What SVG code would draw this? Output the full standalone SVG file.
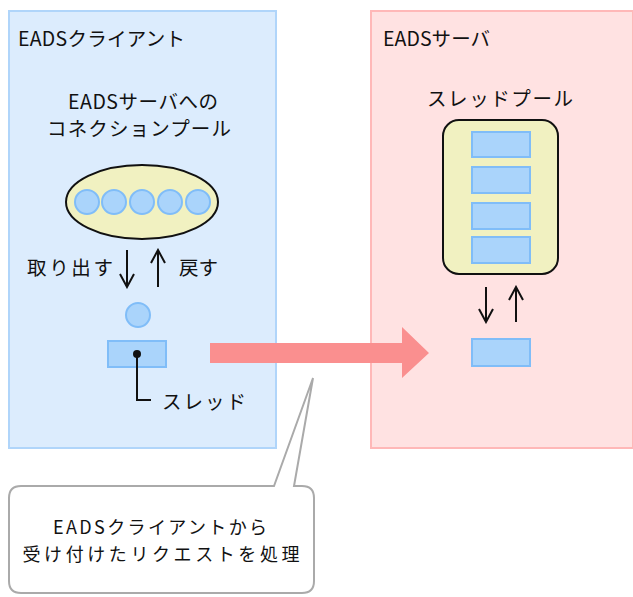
<svg xmlns="http://www.w3.org/2000/svg" width="633" height="597" viewBox="0 0 633 597">
<defs>
<style>
text{font-family:"Noto Sans CJK JP","Noto Sans",sans-serif;font-size:19.5px;fill:#111;}
.sm{font-size:18px;}
.blue{fill:#aad4fb;stroke:#80bdf8;stroke-width:2;}
.ln{stroke:#111;stroke-width:2;fill:none;}
</style>
<marker id="open" viewBox="0 0 16 16" refX="14" refY="8" markerWidth="16" markerHeight="16" markerUnits="userSpaceOnUse" orient="auto">
<polyline points="1,1 14,8 1,15" fill="none" stroke="#111" stroke-width="2"/>
</marker>
</defs>
<g id="client">
<rect x="9" y="11" width="267" height="437" fill="#dcecfd" stroke="#b0d5fa" stroke-width="2"/>
<text x="18" y="46" textLength="167" lengthAdjust="spacing">EADSクライアント</text>
<text x="143" y="109" text-anchor="middle" textLength="150" lengthAdjust="spacing">EADSサーバへの</text>
<text x="139" y="136" text-anchor="middle" textLength="184" lengthAdjust="spacing">コネクションプール</text>
</g>
<g id="connpool">
<ellipse cx="142" cy="202" rx="76" ry="37" fill="#f1f1c1" stroke="#111" stroke-width="2"/>
<circle class="blue" cx="87" cy="202" r="12"/>
<circle class="blue" cx="114" cy="202" r="12"/>
<circle class="blue" cx="142" cy="202" r="12"/>
<circle class="blue" cx="170" cy="202" r="12"/>
<circle class="blue" cx="198" cy="202" r="12"/>
</g>
<g id="takeout-label"><text x="27" y="275" textLength="86" lengthAdjust="spacing">取り出す</text></g>
<g id="return-label"><text x="179" y="275" textLength="39" lengthAdjust="spacing">戻す</text></g>
<g id="conn"><circle class="blue" cx="138" cy="315" r="12"/></g>
<g id="client-thread">
<rect class="blue" x="108" y="341" width="58" height="26"/>
<circle cx="137" cy="354" r="4" fill="#111"/>
<polyline class="ln" points="137,354 137,400 151,400"/>
<text x="162" y="409" textLength="84" lengthAdjust="spacing">スレッド</text>
</g>
<g id="server">
<rect x="371" y="11" width="262" height="437" fill="#ffe2e2" stroke="#ffb8b8" stroke-width="2"/>
<text x="383" y="46" textLength="107" lengthAdjust="spacing">EADSサーバ</text>
<text x="500" y="106" text-anchor="middle" textLength="146" lengthAdjust="spacing">スレッドプール</text>
</g>
<g id="threadpool">
<rect x="443" y="120" width="115" height="154" rx="16" fill="#f1f1c1" stroke="#111" stroke-width="2"/>
<rect class="blue" x="472" y="132" width="58" height="25"/>
<rect class="blue" x="472" y="167" width="58" height="26"/>
<rect class="blue" x="472" y="203" width="58" height="26"/>
<rect class="blue" x="472" y="237" width="58" height="26"/>
</g>
<g id="server-thread"><rect class="blue" x="472" y="339" width="58" height="27"/></g>
<g id="connectors">
<line class="ln" x1="127" y1="250" x2="127" y2="287" marker-end="url(#open)"/>
<line class="ln" x1="158" y1="287" x2="158" y2="250" marker-end="url(#open)"/>
<line class="ln" x1="486" y1="287" x2="486" y2="322" marker-end="url(#open)"/>
<line class="ln" x1="516" y1="322" x2="516" y2="287" marker-end="url(#open)"/>
<polygon points="210,343 402,343 402,327 429,353 402,378 402,363 210,363" fill="#fa8f8f"/>
</g>
<g id="callout">
<path d="M21,486 H274 L313,378 L294,486 H302 Q314,486 314,498 V581 Q314,593 302,593 H21 Q9,593 9,581 V498 Q9,486 21,486 Z" fill="#fff" stroke="#aaa" stroke-width="2"/>
<text class="sm" x="160" y="534" text-anchor="middle" textLength="214" lengthAdjust="spacing">EADSクライアントから</text>
<text class="sm" x="161" y="561" text-anchor="middle" textLength="277" lengthAdjust="spacing">受け付けたリクエストを処理</text>
</g>
</svg>
